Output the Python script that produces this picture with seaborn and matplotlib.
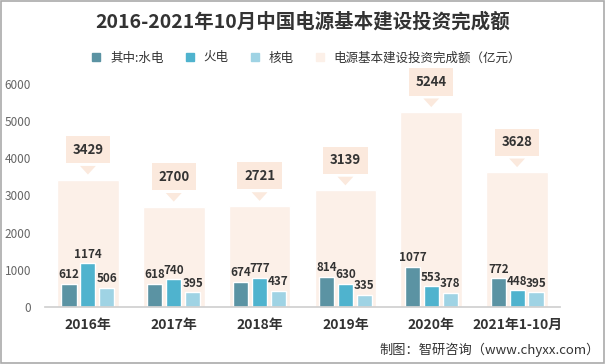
import pandas as pd
import numpy as np
import seaborn as sns
import matplotlib.pyplot as plt
from matplotlib.patches import Rectangle

# data
years = ['2016年', '2017年', '2018年', '2019年', '2020年', '2021年1-10月']
hydro = [612, 618, 674, 814, 1077, 772]
thermal = [1174, 740, 777, 630, 553, 448]
nuclear = [506, 395, 437, 335, 378, 395]
total = [3429, 2700, 2721, 3139, 5244, 3628]
series_names = ['其中:水电', '火电', '核电']
total_name = '电源基本建设投资完成额（亿元）'

sns.set_theme(style='white')
plt.rcParams['font.family'] = ['Noto Sans CJK SC', 'DejaVu Sans']

colors = ['#5B93A3', '#4FB3CE', '#9FD3E4']
bg_color = '#FCF0E8'
box_color = '#FBE9DD'

long_df = pd.DataFrame({
    'year': years * 3,
    'kind': np.repeat(series_names, len(years)),
    'value': hydro + thermal + nuclear,
})
tot_df = pd.DataFrame({'year': years, 'value': total})

fig = plt.figure(figsize=(6.05, 3.64), dpi=100)
ax = fig.add_axes([45 / 605, 57 / 364, 515 / 605, 223 / 364])

# background total bars
sns.barplot(data=tot_df, x='year', y='value', color=bg_color, width=0.72,
            ax=ax, saturation=1, zorder=1)
# component bars
sns.barplot(data=long_df, x='year', y='value', hue='kind', palette=colors,
            width=0.66, gap=0.2, ax=ax, saturation=1, zorder=2)

for cont in ax.containers[1:]:
    ax.bar_label(cont, padding=2, fontsize=8.4, fontweight='bold', color='#333333')

# callout labels for totals
for i, v in enumerate(total):
    ax.annotate(str(v), xy=(i, v + 60), xytext=(0, 20), textcoords='offset points',
                ha='center', va='center', fontsize=9.5, fontweight='bold', color='#333333',
                bbox=dict(boxstyle='square,pad=0.5', fc=box_color, ec='none'),
                arrowprops=dict(arrowstyle='wedge,tail_width=1.2,shrink_factor=0.5',
                                fc=box_color, ec='none'),
                zorder=3)

ax.set_ylim(0, 6000)
ax.set_xlim(-0.5, 5.5)
ax.set_yticks(range(0, 6001, 1000))
ax.tick_params(axis='y', labelsize=8.5, labelcolor='#666666', pad=10, length=0)
ax.tick_params(axis='x', labelsize=10, pad=8, length=0)
for lbl in ax.get_xticklabels():
    lbl.set_fontweight('bold')
    lbl.set_color('#333333')
ax.set_xlabel('')
ax.set_ylabel('')
for s in ['top', 'right', 'left']:
    ax.spines[s].set_visible(False)
ax.spines['bottom'].set_color('#D0D0D0')

# legend
handles = [plt.Line2D([], [], marker='s', ls='', color=c, markersize=6) for c in colors]
handles.append(plt.Line2D([], [], marker='s', ls='', color=bg_color, markersize=6))
ax.get_legend().remove()
fig.legend(handles, series_names + [total_name], loc='center', ncol=4,
           bbox_to_anchor=(0.5, 1 - 58 / 364), frameon=False, fontsize=9,
           handletextpad=0.1, columnspacing=1.1, labelcolor='#333333')

fig.text(0.5, 1 - 22 / 364, '2016-2021年10月中国电源基本建设投资完成额',
         ha='center', va='center', fontsize=14, fontweight='bold', color='#333333')
fig.text(0.992, 1 - 350 / 364, '制图：智研咨询（www.chyxx.com）',
         ha='right', va='center', fontsize=9.5, color='#333333')

fig.patches.append(Rectangle((0.001, 0.002), 0.997, 0.995, transform=fig.transFigure,
                             fill=False, ec='#AAAAAA', lw=1.2))

fig.savefig('out.png', dpi=100)
